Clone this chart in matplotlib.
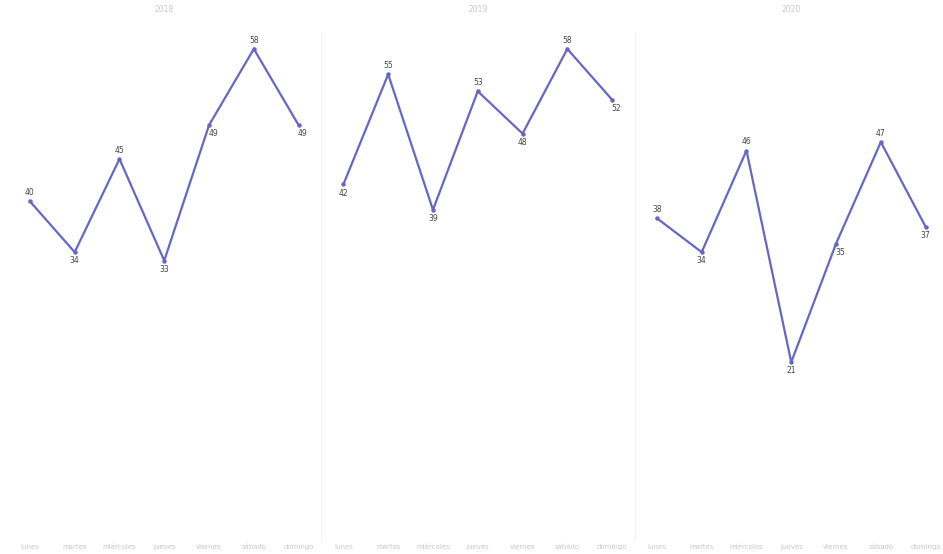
import numpy as np
import matplotlib.pyplot as plt

# datos
anios = ['2018', '2019', '2020']
dias = ['lunes', 'martes', 'miércoles', 'jueves', 'viernes', 'sábado', 'domingo']
valores_2018 = [40, 34, 45, 33, 49, 58, 49]
valores_2019 = [42, 55, 39, 53, 48, 58, 52]
valores_2020 = [38, 34, 46, 21, 35, 47, 37]
series = [valores_2018, valores_2019, valores_2020]

color_linea = '#6666c6'

fig = plt.figure(figsize=(9.43, 5.54), dpi=100)
fig.patch.set_facecolor('white')

ancho = 313.5 / 943
izq = 7.5 / 943
abajo = 1 - 540 / 554
alto = (540 - 32) / 554

for k, (anio, vals) in enumerate(zip(anios, series)):
    ax = fig.add_axes([izq + k * ancho, abajo, ancho, alto])
    x = np.arange(len(dias))
    ax.plot(x, vals, color=color_linea, lw=1.6, marker='o', ms=2.2,
            solid_joinstyle='miter')
    ax.set_xlim(-0.5, len(dias) - 0.5)
    ax.set_ylim(0, 60)

    # etiquetas de datos: arriba en los picos, abajo en el resto
    for i, v in enumerate(vals):
        izq_v = vals[i - 1] if i > 0 else -1
        der_v = vals[i + 1] if i < len(vals) - 1 else -1
        if v > izq_v and v > der_v:
            ax.annotate(str(v), (i, v), xytext=(0, 3), textcoords='offset points',
                        ha='center', va='bottom', fontsize=5.5, color='#444444')
        else:
            dx = 3 if (0 < i < len(vals) - 1 and izq_v < v < der_v) or i == len(vals) - 1 and v > 45 else 0
            ax.annotate(str(v), (i, v), xytext=(dx, -3), textcoords='offset points',
                        ha='center', va='top', fontsize=5.5, color='#444444')

    ax.set_xticks(x)
    ax.set_xticklabels(dias, fontsize=5, color='#c8c8c8')
    ax.tick_params(axis='x', length=0, pad=3)
    ax.set_yticks([])
    for s in ['top', 'left', 'bottom']:
        ax.spines[s].set_visible(False)
    if k < len(anios) - 1:
        ax.spines['right'].set_color('#f2f2f2')
        ax.spines['right'].set_linewidth(0.8)
    else:
        ax.spines['right'].set_visible(False)
    ax.set_facecolor('none')

    fig.text(izq + (k + 0.5) * ancho, 1 - 9 / 554, anio, ha='center', va='center',
             fontsize=5.5, color='#c8c8c8')

fig.savefig('out.png', dpi=100, facecolor='white')
